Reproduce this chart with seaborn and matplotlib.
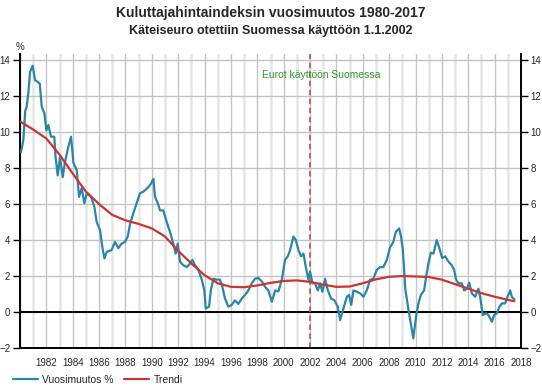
import matplotlib
matplotlib.use("Agg")
import matplotlib.pyplot as plt
import seaborn as sns
import pandas as pd

# Vuosimuutos % (roughly every quarter)
cpi_years = [
    1980.08, 1980.25, 1980.4, 1980.5, 1980.63, 1980.76, 1980.96, 1981.14, 1981.34, 1981.5,
    1981.65, 1981.85, 1982.0, 1982.15, 1982.35, 1982.6, 1982.7, 1982.86, 1983.03, 1983.24,
    1983.4, 1983.67, 1983.87, 1984.05, 1984.3, 1984.48, 1984.68, 1984.88, 1985.06, 1985.4,
    1985.64, 1985.82, 1986.07, 1986.25, 1986.4, 1986.58, 1986.95, 1987.2, 1987.46, 1987.7,
    1987.97, 1988.17, 1988.35, 1988.6, 1988.85, 1989.1, 1989.36, 1989.6, 1989.8, 1989.94,
    1990.12, 1990.24, 1990.45, 1990.62, 1990.87, 1991.13, 1991.38, 1991.63, 1991.81, 1991.96,
    1992.14, 1992.39, 1992.65, 1992.9, 1993.07, 1993.28, 1993.53, 1993.79, 1993.98, 1994.09,
    1994.34, 1994.47, 1994.67, 1994.92, 1995.17, 1995.35, 1995.55, 1995.8, 1996.06, 1996.31,
    1996.56, 1996.82, 1997.07, 1997.32, 1997.58, 1997.83, 1998.08, 1998.34, 1998.59, 1998.84,
    1999.1, 1999.35, 1999.6, 1999.86, 2000.1, 2000.31, 2000.49, 2000.74, 2000.92, 2001.12,
    2001.32, 2001.5, 2001.68, 2001.88, 2002.0, 2002.18, 2002.38, 2002.59, 2002.76, 2002.94,
    2003.14, 2003.35, 2003.6, 2003.85, 2004.1, 2004.28, 2004.53, 2004.79, 2004.96, 2005.12,
    2005.29, 2005.55, 2005.8, 2006.05, 2006.3, 2006.56, 2006.8, 2007.06, 2007.31, 2007.56,
    2007.82, 2008.07, 2008.32, 2008.5, 2008.76, 2008.9, 2009.04, 2009.22, 2009.45, 2009.64,
    2009.83, 2010.04, 2010.22, 2010.4, 2010.65, 2010.8, 2010.98, 2011.16, 2011.36, 2011.61,
    2011.81, 2012.02, 2012.25, 2012.5, 2012.75, 2012.93, 2013.08, 2013.25, 2013.51, 2013.69,
    2013.9, 2014.07, 2014.27, 2014.52, 2014.77, 2014.9, 2015.1, 2015.36, 2015.53, 2015.79,
    2015.96, 2016.17, 2016.37, 2016.55, 2016.8, 2016.97, 2017.18, 2017.3, 2017.5,
]
cpi_values = [
    8.9, 9.55, 11.2, 11.4, 12.15, 13.35, 13.7, 12.9, 12.8, 12.7,
    11.4, 11.05, 10.1, 10.4, 9.75, 9.75, 8.6, 7.6, 8.6, 7.5,
    8.3, 9.2, 9.75, 8.3, 7.9, 6.4, 6.9, 6.05, 6.6, 6.4,
    5.85, 5.0, 4.55, 3.6, 2.98, 3.35, 3.45, 3.9, 3.55, 3.8,
    3.9, 4.2, 4.9, 5.5, 6.05, 6.6, 6.7, 6.85, 7.0, 7.15,
    7.4, 6.4, 6.05, 5.65, 5.65, 5.0, 4.45, 3.8, 3.25, 3.8,
    2.8, 2.6, 2.5, 2.7, 2.9, 2.6, 2.35, 1.8, 1.2, 0.2,
    0.3, 1.2, 1.85, 1.8, 1.8, 1.4, 0.75, 0.3, 0.4, 0.65,
    0.45, 0.75, 0.95, 1.2, 1.6, 1.85, 1.9, 1.7, 1.4, 1.2,
    0.57, 1.2, 1.15, 1.8, 2.9, 3.1, 3.45, 4.2, 4.0, 3.45,
    3.1, 3.25, 2.5, 1.8, 2.25, 1.6, 1.6, 1.2, 1.6, 1.13,
    1.85, 1.2, 0.75, 0.65, 0.3, -0.45, 0.2, 0.85, 0.95, 0.4,
    1.2, 1.13, 1.04, 0.85, 1.2, 1.8, 1.85, 2.35, 2.5, 2.5,
    2.9, 3.6, 3.9, 4.45, 4.65, 4.2, 3.45, 1.3, 0.2, -0.63,
    -1.46, -0.26, 0.48, 0.95, 1.2, 1.96, 2.7, 3.3, 3.25, 4.0,
    3.55, 3.0, 3.1, 2.8, 2.6, 2.35, 1.8, 1.6, 1.6, 1.2,
    1.3, 1.63, 1.04, 0.85, 1.3, 0.85, -0.17, -0.07, -0.17, -0.54,
    -0.17, -0.07, 0.3, 0.48, 0.48, 0.85, 1.2, 0.85, 0.7,
]

# Trendi
trend_years = [1980, 1981, 1982, 1983, 1984, 1985, 1986, 1987, 1988, 1989,
               1990, 1991, 1992, 1993, 1994, 1995, 1996, 1997, 1998, 1999,
               2000, 2001, 2002, 2003, 2004, 2005, 2006, 2007, 2008, 2009,
               2010, 2011, 2012, 2013, 2014, 2015, 2016, 2017, 2017.5]
trend_values = [10.6, 10.15, 9.65, 8.75, 7.7, 6.7, 6.0, 5.4, 5.1, 4.9,
                4.65, 4.2, 3.4, 2.7, 2.05, 1.6, 1.4, 1.38, 1.48, 1.62,
                1.73, 1.76, 1.68, 1.52, 1.4, 1.42, 1.6, 1.82, 1.96, 2.0,
                1.98, 1.95, 1.8, 1.55, 1.3, 1.05, 0.85, 0.68, 0.6]

euro_year = 2002
euro_label = "Eurot käyttöön Suomessa"
title = "Kuluttajahintaindeksin vuosimuutos 1980-2017"
subtitle = "Käteiseuro otettiin Suomessa käyttöön 1.1.2002"

BLUE = "#2a86a8"
RED = "#cc3333"

sns.set_style("white")
plt.rcParams["font.family"] = ["Liberation Sans", "DejaVu Sans"]

cpi = pd.DataFrame({"year": cpi_years, "value": cpi_values})
trend = pd.DataFrame({"year": trend_years, "value": trend_values})

fig = plt.figure(figsize=(5.42, 3.86), dpi=100)
ax = fig.add_axes([20 / 542, 38 / 386, 501 / 542, 294 / 386])

sns.lineplot(data=cpi, x="year", y="value", ax=ax, color=BLUE, linewidth=1.6,
             label="Vuosimuutos %", zorder=3)
sns.lineplot(data=trend, x="year", y="value", ax=ax, color=RED, linewidth=1.6,
             label="Trendi", zorder=4)

ax.set_xlim(1980, 2018)
ax.set_ylim(-2, 14.35)
ax.set_xticks(range(1982, 2019, 2))
ax.set_xticks([y for y in range(1980, 2018) if y % 2 == 1 or y == 1980], minor=True)
ax.set_yticks(range(-2, 15, 2))
ax.grid(True, which="major", color="#c4c4c4", linewidth=1.0, zorder=0)
ax.grid(True, which="minor", axis="x", color="#e6e6e6", linewidth=1.8, zorder=0)
ax.set_axisbelow(True)

ax.axhline(0, color="black", linewidth=1.4, zorder=2)
ax.axvline(euro_year, color="#b46060", linewidth=1.3, linestyle=(0, (3, 2)), zorder=2)
# label sits a bit left of the euro line, near the top
ax.text(euro_year - 3.62, 13.2, euro_label, color="#2e9a2e", fontsize=7.5, ha="left", va="center")

for side in ["left", "right", "bottom"]:
    ax.spines[side].set_color("black")
    ax.spines[side].set_linewidth(1.4)
ax.spines["top"].set_visible(False)

ax.tick_params(axis="both", which="both", direction="out", length=5, width=1,
               color="black", labelsize=7, pad=2)
ax.tick_params(axis="y", right=True, labelright=True, left=True)
ax.tick_params(axis="x", which="minor", length=5)
ax.set_xlabel("")
ax.set_ylabel("")

fig.text(20 / 542, 1 - 47 / 386, "%", fontsize=7, ha="center", va="center")
fig.text(0.5, 1 - 13 / 386, title, fontsize=10, fontweight="bold", ha="center", va="center")
fig.text(0.5, 1 - 31 / 386, subtitle, fontsize=9, fontweight="bold", ha="center", va="center")

ax.legend(loc="lower left", bbox_to_anchor=(8 / 542, -0.01), bbox_transform=fig.transFigure,
          ncol=2, frameon=False, fontsize=7.5, handlelength=2.4, columnspacing=1.0,
          handletextpad=0.4, borderaxespad=0.1)

fig.savefig("out.png", dpi=100)
